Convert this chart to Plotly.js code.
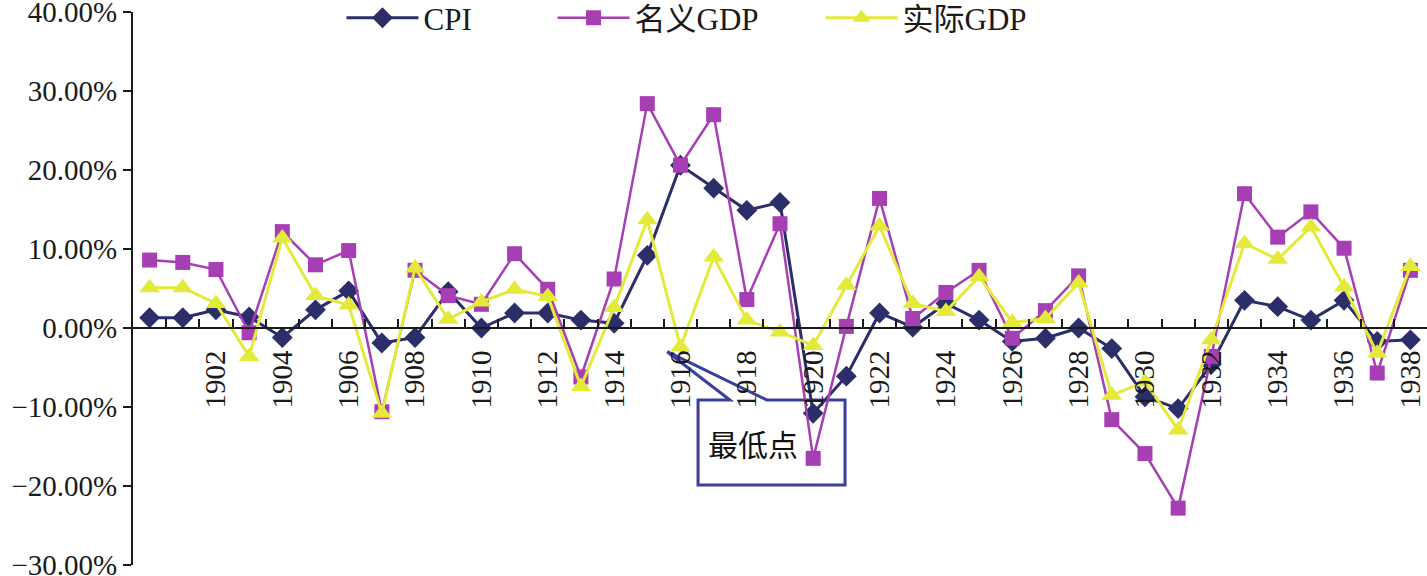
<!DOCTYPE html>
<html>
<head>
<meta charset="utf-8">
<script src="https://cdn.plot.ly/plotly-3.0.1.min.js"></script>
<style>html,body{margin:0;padding:0;background:#fff;}#chart{width:1427px;height:576px;}</style>
</head>
<body>
<div id="chart"></div>
<script>
const years = [1900,1901,1902,1903,1904,1905,1906,1907,1908,1909,1910,1911,1912,1913,1914,1915,1916,1917,1918,1919,1920,1921,1922,1923,1924,1925,1926,1927,1928,1929,1930,1931,1932,1933,1934,1935,1936,1937,1938];
const cpi = [1.3,1.3,2.3,1.4,-1.2,2.3,4.7,-1.9,-1.2,4.6,0.0,1.9,1.9,1.0,0.6,9.2,20.6,17.7,14.9,15.9,-10.8,-6.1,1.9,0.1,3.1,1.0,-1.7,-1.3,0.0,-2.6,-8.7,-10.2,-4.6,3.5,2.7,1.0,3.5,-1.7,-1.5];
const nominalGDP = [8.6,8.3,7.4,-0.6,12.2,8.0,9.8,-10.6,7.3,4.1,3.0,9.4,4.9,-6.2,6.2,28.4,20.6,27.0,3.6,13.2,-16.5,0.2,16.4,1.2,4.5,7.3,-1.3,2.2,6.6,-11.6,-15.9,-22.8,-3.6,17.0,11.5,14.7,10.1,-5.7,7.3];
const realGDP = [5.1,5.1,3.1,-3.6,11.4,4.1,2.9,-10.8,7.6,1.1,3.3,4.9,4.0,-7.4,2.6,13.7,-2.4,9.0,1.0,-0.5,-2.2,5.4,12.9,3.1,2.1,6.5,0.7,1.2,5.7,-8.5,-6.8,-12.9,-1.5,10.7,8.7,12.8,5.2,-3.2,7.8];
const seriesNames = ['CPI','名义GDP','实际GDP'];
const tickYears = [1902,1904,1906,1908,1910,1912,1914,1916,1918,1920,1922,1924,1926,1928,1930,1932,1934,1936,1938];
const yTicks = [-30,-20,-10,0,10,20,30,40];
const calloutText = '最低点';

const FONT = 'Liberation Serif, Times New Roman, Noto Sans CJK SC, serif';
const colors = ['#2B2E68','#A63FB3','#E4EA3A'];

const traces = [
  {x: years, y: cpi, name: seriesNames[0], type: 'scatter', mode: 'lines+markers', legend: 'legend',
   line: {color: colors[0], width: 3}, marker: {symbol: 'diamond', size: 16, color: colors[0]}},
  {x: years, y: nominalGDP, name: seriesNames[1], type: 'scatter', mode: 'lines+markers', legend: 'legend2',
   line: {color: colors[1], width: 2.5}, marker: {symbol: 'square', size: 15, color: colors[1]}},
  {x: years, y: realGDP, name: seriesNames[2], type: 'scatter', mode: 'lines+markers', legend: 'legend3',
   line: {color: colors[2], width: 3}, marker: {symbol: 'triangle-up', size: 18, color: colors[2]}},
  {x: [], y: [], xaxis: 'x2', type: 'scatter', mode: 'markers', showlegend: false, hoverinfo: 'skip'}
];

const xr = [years[0]-0.5, years[years.length-1]+0.5];
const yr = [yTicks[0], yTicks[yTicks.length-1]];
const zeroPos = (0 - yr[0]) / (yr[1] - yr[0]);
const halfTicks = years.slice(0, years.length-1).map(v => v + 0.5);

function legendAt(x) {
  return {orientation: 'h', x: x, xanchor: 'left', y: 0.989, yanchor: 'middle',
          font: {family: FONT, size: 31, color: '#1a1a1a'}, bgcolor: 'rgba(0,0,0,0)',
          itemwidth: 72, tracegroupgap: 0};
}

const layout = {
  width: 1427, height: 576,
  margin: {l: 133, r: 0, t: 12, b: 11, autoexpand: false},
  paper_bgcolor: '#fff', plot_bgcolor: '#fff',
  font: {family: FONT, color: '#1a1a1a', size: 28},
  showlegend: true,
  legend: legendAt(0.1611),
  legend2: legendAt(0.3242),
  legend3: legendAt(0.5313),
  xaxis: {range: xr, anchor: 'free', position: zeroPos, showgrid: false, zeroline: false, automargin: false,
          showline: true, linecolor: '#1a1a1a', linewidth: 2,
          tickmode: 'array', tickvals: tickYears, ticktext: tickYears.map(String),
          ticks: '', tickangle: -90, ticklabelstandoff: 10,
          tickfont: {family: FONT, size: 29, color: '#1a1a1a'}},
  xaxis2: {range: xr, overlaying: 'x', anchor: 'free', position: zeroPos, showgrid: false, automargin: false,
           zeroline: false, showline: false, tickmode: 'array', tickvals: halfTicks,
           ticks: 'inside', ticklen: 9, tickwidth: 2, tickcolor: '#1a1a1a', showticklabels: false},
  yaxis: {range: yr, showgrid: false, zeroline: false, showline: true, linecolor: '#1a1a1a', linewidth: 2, automargin: false,
          tickmode: 'array', tickvals: yTicks, ticktext: yTicks.map(v => (v < 0 ? '\u2212' : '') + Math.abs(v).toFixed(2) + '%'),
          ticks: 'outside', ticklen: 8, tickwidth: 2, tickcolor: '#1a1a1a', ticklabeloverflow: 'allow',
          tickfont: {family: FONT, size: 29, color: '#1a1a1a'}},
  shapes: [{
    type: 'path', xref: 'x', yref: 'y', layer: 'below',
    path: 'M 1916.53,-9.11 L 1917.49,-9.11 L 1915.6,-3.0 L 1918.6,-9.11 L 1920.96,-9.11 L 1920.96,-19.87 L 1916.53,-19.87 Z',
    line: {color: '#3A3E9C', width: 3}, fillcolor: 'rgba(0,0,0,0)'
  }],
  annotations: [{
    x: 1918.2, y: -14.6, xref: 'x', yref: 'y', text: calloutText, showarrow: false,
    font: {family: 'Noto Sans CJK SC, sans-serif', size: 30, color: '#111'}
  }]
};

Plotly.newPlot('chart', traces, layout, {displayModeBar: false, staticPlot: true});
</script>
</body>
</html>
